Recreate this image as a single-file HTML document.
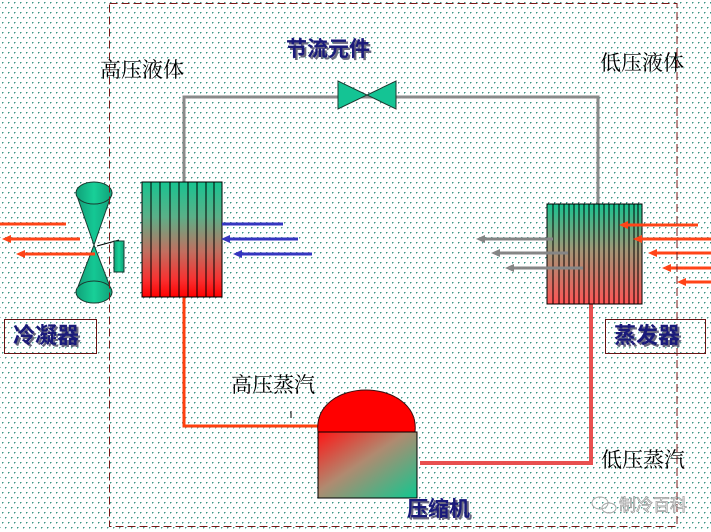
<!DOCTYPE html>
<html><head><meta charset="utf-8">
<style>
html,body{margin:0;padding:0;}
body{width:711px;height:532px;overflow:hidden;background:#fff;
background-image:radial-gradient(circle at 0.5px 0.5px,#3a9585 0.8px,transparent 1px),radial-gradient(circle at 0.5px 0.5px,#3a9585 0.8px,transparent 1px);
background-size:6px 10px,6px 10px;background-position:2px 2px,5px 7px;}
svg{position:absolute;left:0;top:0;}
.lbl{font-family:"Liberation Serif","Noto Serif CJK SC",serif;font-size:21px;fill:#000;}
.bl{font-family:"Liberation Sans","Noto Sans CJK SC",sans-serif;font-size:21px;font-weight:bold;fill:#1a1a7a;}
.sh{font-family:"Liberation Sans","Noto Sans CJK SC",sans-serif;font-size:21px;font-weight:bold;fill:#6a6a80;}
.big{font-size:22px;}
</style></head><body>
<svg width="711" height="532" viewBox="0 0 711 532" xmlns="http://www.w3.org/2000/svg">
<defs>
<linearGradient id="gc" x1="0" y1="0" x2="0" y2="1">
<stop offset="0" stop-color="#18c490"/><stop offset="0.3" stop-color="#5ab088"/><stop offset="0.6" stop-color="#c07060"/><stop offset="0.85" stop-color="#f83030"/><stop offset="1" stop-color="#ff0000"/>
</linearGradient>
<linearGradient id="ge" x1="0" y1="0" x2="0" y2="1">
<stop offset="0" stop-color="#18c490"/><stop offset="0.45" stop-color="#a09878"/><stop offset="1" stop-color="#ff5555"/>
</linearGradient>
<linearGradient id="gk" x1="0" y1="0" x2="1" y2="1">
<stop offset="0" stop-color="#ff1515"/><stop offset="0.45" stop-color="#b08a70"/><stop offset="1" stop-color="#10c890"/>
</linearGradient>
<linearGradient id="gf" x1="0" y1="0" x2="1" y2="0">
<stop offset="0" stop-color="#159a75"/><stop offset="0.5" stop-color="#14c894"/><stop offset="1" stop-color="#15a07a"/>
</linearGradient>
<linearGradient id="gm" x1="0" y1="0" x2="1" y2="0">
<stop offset="0" stop-color="#10a078"/><stop offset="0.5" stop-color="#18d098"/><stop offset="1" stop-color="#10a078"/>
</linearGradient>
</defs>

<!-- gray top pipe -->
<polyline points="184,182 184,97 598,97 598,204" fill="none" stroke="#8a8a8a" stroke-width="3"/>
<!-- valve -->
<polygon points="338,81 338,109 367,95" fill="#14c494" stroke="#1a3a30" stroke-width="1"/>
<polygon points="396,81 396,109 367,95" fill="#14c494" stroke="#1a3a30" stroke-width="1"/>

<!-- red pipe condenser to compressor -->
<polyline points="184,297 184,426 332,426" fill="none" stroke="#ff4010" stroke-width="3"/>
<!-- pink pipe evaporator to compressor -->
<polyline points="591,304 591,463 420,463" fill="none" stroke="#e85050" stroke-width="4"/>

<!-- compressor -->
<path d="M318,432 C315,405 340,390 366,390 C392,390 418,405 415,432 Z" fill="#ff0000" stroke="#3a1010" stroke-width="1"/>
<rect x="318" y="432" width="99" height="66" fill="url(#gk)" stroke="#000" stroke-width="1"/>
<line x1="291" y1="411" x2="291" y2="418" stroke="#000" stroke-width="1"/>

<!-- condenser HX -->
<rect x="142" y="182" width="80" height="115" fill="url(#gc)" stroke="#000" stroke-width="1"/>
<g stroke="#000" stroke-width="1">
<line x1="151" y1="182" x2="151" y2="297"/><line x1="160" y1="182" x2="160" y2="297"/>
<line x1="170" y1="182" x2="170" y2="297"/><line x1="179" y1="182" x2="179" y2="297"/>
<line x1="188" y1="182" x2="188" y2="297"/><line x1="197" y1="182" x2="197" y2="297"/>
<line x1="206" y1="182" x2="206" y2="297"/><line x1="214" y1="182" x2="214" y2="297"/>
</g>

<!-- evaporator HX -->
<rect x="547" y="204" width="95" height="100" fill="url(#ge)" stroke="#000" stroke-width="1"/>
<g stroke="#000" stroke-width="1">
<line x1="553" y1="204" x2="553" y2="304"/><line x1="559" y1="204" x2="559" y2="304"/>
<line x1="564" y1="204" x2="564" y2="304"/><line x1="569" y1="204" x2="569" y2="304"/>
<line x1="574" y1="204" x2="574" y2="304"/><line x1="579" y1="204" x2="579" y2="304"/>
<line x1="584" y1="204" x2="584" y2="304"/><line x1="589" y1="204" x2="589" y2="304"/>
<line x1="594" y1="204" x2="594" y2="304"/><line x1="599" y1="204" x2="599" y2="304"/>
<line x1="604" y1="204" x2="604" y2="304"/><line x1="609" y1="204" x2="609" y2="304"/>
<line x1="614" y1="204" x2="614" y2="304"/><line x1="619" y1="204" x2="619" y2="304"/>
<line x1="624" y1="204" x2="624" y2="304"/><line x1="629" y1="204" x2="629" y2="304"/>
<line x1="634" y1="204" x2="634" y2="304"/><line x1="638" y1="204" x2="638" y2="304"/>
</g>

<!-- fan -->
<polygon points="76,193 112,193 94,245" fill="url(#gf)" stroke="#1a3a30" stroke-width="1"/>
<polygon points="76,292 112,292 94,245" fill="url(#gf)" stroke="#1a3a30" stroke-width="1"/>
<ellipse cx="94" cy="193" rx="18" ry="11" fill="url(#gm)" stroke="#1a3a30" stroke-width="1"/>
<ellipse cx="94" cy="292" rx="18" ry="11" fill="url(#gm)" stroke="#1a3a30" stroke-width="1"/>
<line x1="97" y1="246" x2="119" y2="240" stroke="#000" stroke-width="1"/>
<rect x="114" y="241" width="10" height="31" fill="url(#gm)" stroke="#1a3a30" stroke-width="1"/>

<!-- condenser red arrows (left) -->
<g stroke="#ff4418" stroke-width="3">
<line x1="0" y1="224" x2="66" y2="224"/>
<line x1="10" y1="239" x2="80" y2="239"/>
<line x1="24" y1="254" x2="95" y2="254"/>
</g>
<g fill="#ff4418">
<polygon points="2,239 11,235 11,243"/>
<polygon points="16,254 25,250 25,258"/>
</g>

<!-- blue arrows -->
<g stroke="#3636c0" stroke-width="3">
<line x1="222" y1="224" x2="283" y2="224"/>
<line x1="229" y1="239" x2="298" y2="239"/>
<line x1="241" y1="254" x2="312" y2="254"/>
</g>
<g fill="#3636c0">
<polygon points="221,239 230,235 230,243"/>
<polygon points="233,254 242,250 242,258"/>
</g>

<!-- gray arrows -->
<g stroke="#858585" stroke-width="3">
<line x1="484" y1="239" x2="553" y2="239"/>
<line x1="499" y1="253" x2="568" y2="253"/>
<line x1="513" y1="268" x2="583" y2="268"/>
</g>
<g fill="#858585">
<polygon points="476,239 485,235 485,243"/>
<polygon points="491,253 500,249 500,257"/>
<polygon points="505,268 514,264 514,272"/>
</g>

<!-- evaporator red arrows (right) -->
<g stroke="#ff4418" stroke-width="3">
<line x1="627" y1="225" x2="698" y2="225"/>
<line x1="641" y1="239" x2="711" y2="239"/>
<line x1="656" y1="253" x2="711" y2="253"/>
<line x1="670" y1="268" x2="711" y2="268"/>
<line x1="685" y1="282" x2="711" y2="282"/>
</g>
<g fill="#ff4418">
<polygon points="619,225 628,221 628,229"/>
<polygon points="633,239 642,235 642,243"/>
<polygon points="648,253 657,249 657,257"/>
<polygon points="662,268 671,264 671,272"/>
<polygon points="677,282 686,278 686,286"/>
</g>

<!-- dashed frame -->
<rect x="109.5" y="3.5" width="567.5" height="523" fill="none" stroke="#7a1818" stroke-width="1" stroke-dasharray="8,4"/>

<!-- label boxes -->
<rect x="4.5" y="319.5" width="92" height="34" fill="none" stroke="#6a1515" stroke-width="1"/>
<rect x="605.5" y="319.5" width="100" height="34" fill="none" stroke="#6a1515" stroke-width="1"/>

<!-- labels -->
<text class="sh big" x="15" y="345">冷凝器</text>
<text class="bl big" x="13" y="343">冷凝器</text>
<text class="sh big" x="616" y="345">蒸发器</text>
<text class="bl big" x="614" y="343">蒸发器</text>
<text class="sh" x="288" y="58">节流元件</text>
<text class="bl" x="286" y="56">节流元件</text>
<text class="sh" x="409" y="518">压缩机</text>
<text class="bl" x="407" y="516">压缩机</text>

<text class="lbl" x="100" y="77">高压液体</text>
<text class="lbl" x="600" y="70">低压液体</text>
<text class="lbl" x="231" y="392">高压蒸汽</text>
<text class="lbl" x="601" y="467">低压蒸汽</text>

<!-- watermark -->
<g fill="none" stroke="#aaaaaa" stroke-width="1">
<ellipse cx="600" cy="503" rx="8" ry="6"/>
<ellipse cx="609" cy="508" rx="7" ry="5"/>
</g>
<text x="619" y="511" font-family="Liberation Sans,'Noto Sans CJK SC',sans-serif" font-size="17" fill="#f4f4f4" stroke="#9a9a9a" stroke-width="0.7">制冷百科</text>
</svg>
</body></html>
